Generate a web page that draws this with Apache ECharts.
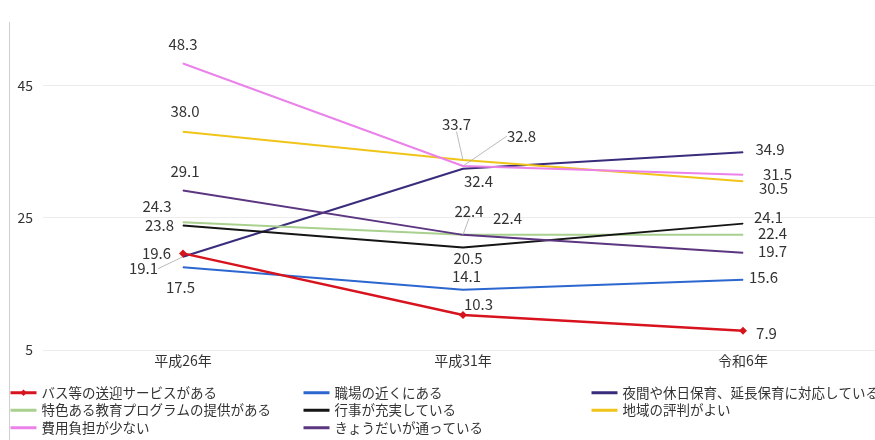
<!DOCTYPE html>
<html><head><meta charset="utf-8">
<script src="https://cdn.jsdelivr.net/npm/echarts@6/dist/echarts.min.js"></script>
<style>html,body{margin:0;padding:0;background:#fff}#c{width:875px;height:440px}</style>
</head><body><div id="c"></div>
<script>
const categories = ['平成26年', '平成31年', '令和6年'];
const yTicks = { min: 5, max: 65, interval: 20 };

const seriesNames = [
  'バス等の送迎サービスがある',
  '職場の近くにある',
  '夜間や休日保育、延長保育に対応している',
  '特色ある教育プログラムの提供がある',
  '行事が充実している',
  '地域の評判がよい',
  '費用負担が少ない',
  'きょうだいが通っている'
];
const busService   = [19.6, 10.3, 7.9];
const nearWork     = [17.5, 14.1, 15.6];
const nightHoliday = [19.1, 32.4, 34.9];
const eduProgram   = [24.3, 22.4, 22.4];
const events       = [23.8, 20.5, 24.1];
const reputation   = [38.0, 33.7, 30.5];
const lowCost      = [48.3, 32.8, 31.5];
const siblings     = [29.1, 22.4, 19.7];
const values = [busService, nearWork, nightHoliday, eduProgram, events, reputation, lowCost, siblings];

// styling (not data)
const colors = ['#d7141e', '#2c67d0', '#3a2c7c', '#a9d08e', '#151515', '#f0c419', '#ea82ea', '#5c3680'];
const labelOffsets = [
  [[-26.5, 0], [15.5, -11], [23.5, 2]],
  [[-2.5, 20], [3.5, -13], [20.5, -2.5]],
  [[-39.5, 12], [15.5, 12.5], [27, -2.5]],
  [[-26, -16], [44.5, -17], [29.5, -1.5]],
  [[-23.5, 0], [5, 10.5], [25.5, -6]],
  [[2, -20], [-6.5, -36], [30.5, 7]],
  [[0, -19], [58.5, -30], [34.5, -0.5]],
  [[2, -19], [6, -24], [29.5, -1]]
];
const leaderLines = [
  [false, false, false],
  [false, false, false],
  [true, false, false],
  [false, false, false],
  [false, false, false],
  [false, true, false],
  [false, true, false],
  [false, true, false]
];

const FONT = '"Noto Sans CJK JP", "Noto Sans", sans-serif';

const series = seriesNames.map((name, i) => ({
  name: name,
  type: 'line',
  symbol: i === 0 ? 'diamond' : 'circle',
  symbolSize: i === 0 ? 8 : 1,
  color: colors[i],
  lineStyle: { width: i === 0 ? 2.5 : 2, color: colors[i] },
  itemStyle: { color: colors[i] },
  z: i === 0 ? 5 : 2,
  data: values[i].map((v, j) => ({
    value: v,
    label: { offset: labelOffsets[i][j] },
    labelLine: { show: leaderLines[i][j], lineStyle: { color: '#aaa', width: 0.8 } }
  })),
  label: {
    show: true,
    position: 'inside',
    align: 'center',
    verticalAlign: 'middle',
    color: '#333',
    fontSize: 15,
    fontFamily: FONT,
    formatter: p => p.value.toFixed(1)
  },
  emphasis: { disabled: true },
  animation: false
}));

const legendStyle = {
  orient: 'vertical',
  itemWidth: 26,
  itemHeight: 8,
  itemGap: 4,
  textStyle: { fontSize: 13.5, color: '#333', fontFamily: FONT },
  padding: 0
};
function legendItem(i) {
  const item = { name: seriesNames[i], lineStyle: { width: 3 } };
  if (i !== 0) item.itemStyle = { opacity: 0 };
  return item;
}

const chart = echarts.init(document.getElementById('c'));
chart.setOption({
  animation: false,
  backgroundColor: '#fff',
  grid: { left: 43, right: -8, top: -47, bottom: 90, outerBoundsMode: 'none', containLabel: false },
  xAxis: {
    type: 'category',
    data: categories,
    boundaryGap: true,
    axisLine: { show: false },
    axisTick: { show: false },
    axisLabel: { color: '#333', fontSize: 14, fontFamily: FONT, margin: 4 }
  },
  yAxis: {
    type: 'value',
    min: yTicks.min,
    max: yTicks.max,
    interval: yTicks.interval,
    axisLine: { show: false },
    axisTick: { show: false },
    axisLabel: { color: '#333', fontSize: 14, fontFamily: FONT, margin: 10 },
    splitLine: { lineStyle: { color: '#ececec', width: 1 } }
  },
  legend: [
    Object.assign({}, legendStyle, { left: 9, top: 386, data: [0, 3, 6].map(legendItem) }),
    Object.assign({}, legendStyle, { left: 302, top: 386, data: [1, 4, 7].map(legendItem) }),
    Object.assign({}, legendStyle, { left: 590, top: 386, data: [2, 5].map(legendItem) })
  ],
  graphic: [
    { type: 'line', shape: { x1: 9.5, y1: 22, x2: 9.5, y2: 440 }, style: { stroke: '#cfcfcf', lineWidth: 1 }, silent: true }
  ],
  series: series
});
</script>
</body></html>
